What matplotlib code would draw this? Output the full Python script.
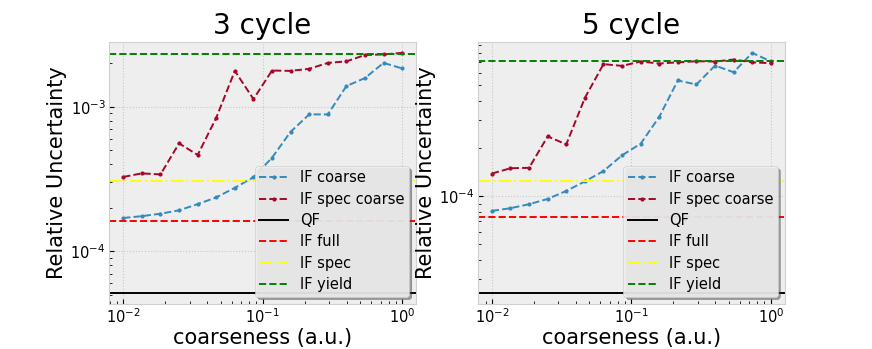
import matplotlib
matplotlib.use("Agg")
import matplotlib.pyplot as plt

plt.style.use("bmh")
plt.rcParams["font.family"] = ["DejaVu Sans"]
plt.rcParams["mathtext.fontset"] = "dejavusans"
plt.rcParams["axes.unicode_minus"] = False

coarseness = [0.01, 0.01359, 0.01848, 0.02512, 0.03415, 0.04642, 0.06310, 0.08577,
              0.1166, 0.1585, 0.2154, 0.2929, 0.3981, 0.5412, 0.7356, 1.0]

titles = ["3 cycle", "5 cycle"]

# 3 cycle
if_coarse_3 = [1.70e-4, 1.75e-4, 1.82e-4, 1.92e-4, 2.12e-4, 2.36e-4, 2.75e-4, 3.25e-4,
               4.44e-4, 6.71e-4, 8.85e-4, 8.85e-4, 1.39e-3, 1.58e-3, 2.01e-3, 1.84e-3]
if_spec_coarse_3 = [3.27e-4, 3.46e-4, 3.40e-4, 5.58e-4, 4.64e-4, 8.39e-4, 1.77e-3, 1.13e-3,
                    1.78e-3, 1.77e-3, 1.83e-3, 2.01e-3, 2.06e-3, 2.28e-3, 2.30e-3, 2.36e-3]
qf_3 = 5.13e-5
if_full_3 = 1.61e-4
if_spec_3 = 3.05e-4
if_yield_3 = 2.32e-3

# 5 cycle
if_coarse_5 = [8.09e-5, 8.41e-5, 8.91e-5, 9.62e-5, 1.08e-4, 1.24e-4, 1.44e-4, 1.81e-4,
               2.14e-4, 3.16e-4, 5.35e-4, 5.05e-4, 6.64e-4, 6.03e-4, 7.98e-4, 7.06e-4]
if_spec_coarse_5 = [1.39e-4, 1.50e-4, 1.51e-4, 2.38e-4, 2.12e-4, 4.16e-4, 6.78e-4, 6.61e-4,
                    7.04e-4, 6.84e-4, 6.96e-4, 7.07e-4, 7.04e-4, 7.25e-4, 6.96e-4, 6.87e-4]
qf_5 = 2.46e-5
if_full_5 = 7.41e-5
if_spec_5 = 1.24e-4
if_yield_5 = 7.06e-4

panels = [
    (if_coarse_3, if_spec_coarse_3, qf_3, if_full_3, if_spec_3, if_yield_3),
    (if_coarse_5, if_spec_coarse_5, qf_5, if_full_5, if_spec_5, if_yield_5),
]

fig, axes = plt.subplots(1, 2, figsize=(8.72, 3.49), dpi=100)
fig.subplots_adjust(left=0.125, right=0.9, bottom=0.129, top=0.88, wspace=0.2)

lw = 1.4
for ax, title, (ifc, ifsc, qf, iff, ifs, ify) in zip(axes, titles, panels):
    ax.plot(coarseness, ifc, linestyle="--", marker=".", markersize=4, color="#348ABD",
            lw=lw, label="IF coarse")
    ax.plot(coarseness, ifsc, linestyle="--", marker=".", markersize=4, color="#A60628",
            lw=lw, label="IF spec coarse")
    ax.axhline(qf, color="black", linestyle="-", lw=lw, label="QF")
    ax.axhline(iff, color="red", linestyle="--", lw=lw, label="IF full")
    ax.axhline(ifs, color="yellow", linestyle="-.", lw=lw, label="IF spec")
    ax.axhline(ify, color="green", linestyle="--", lw=lw, label="IF yield")
    ax.set_xscale("log")
    ax.set_yscale("log")
    ax.set_title(title, fontsize=20)
    ax.set_xlabel("coarseness (a.u.)", fontsize=15, labelpad=1)
    ax.set_ylabel("Relative Uncertainty", fontsize=15, labelpad=2)
    ax.tick_params(labelsize=10.5, which="both", direction="in", pad=2.5)
    ax.grid(True, linestyle=":", color="#c8c8c8", linewidth=0.8)
    ax.grid(False, which="minor")
    for s in ax.spines.values():
        s.set_color("#d0d0d0")
    leg = ax.legend(loc="lower right", fontsize=10.5, shadow=True, fancybox=True,
                    framealpha=0.9, labelspacing=0.44, borderpad=0.3)
    leg.get_frame().set_facecolor("#eeeeee")
    leg.get_frame().set_edgecolor("#cccccc")

axes[0].set_ylim(4.32e-5, 2.81e-3)
axes[1].set_ylim(2.10e-5, 9.36e-4)
for ax in axes:
    ax.set_xlim(0.0079, 1.26)

fig.savefig("out.png", dpi=100)
